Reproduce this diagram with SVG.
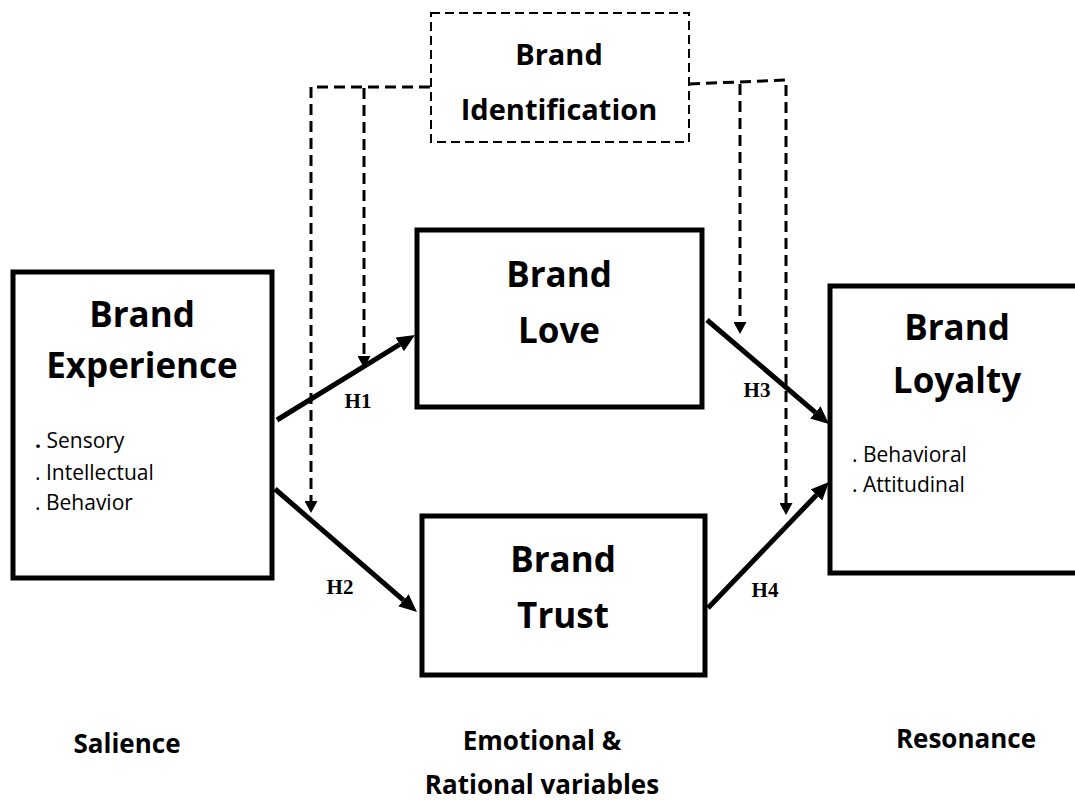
<svg xmlns="http://www.w3.org/2000/svg" width="1075" height="800" viewBox="0 0 1075 800">
<style>
.box{fill:#fff;stroke:#000;stroke-width:5}
.dbox{fill:#fff;stroke:#000;stroke-width:2;stroke-dasharray:9,5}
.title{font-family:"Open Sans","Liberation Sans",sans-serif;font-weight:bold;font-size:35px;fill:#000;text-anchor:middle}
.item{font-family:"Open Sans","Liberation Sans",sans-serif;font-size:21px;fill:#000}
.lab{font-family:"Open Sans","Liberation Sans",sans-serif;font-weight:bold;font-size:26px;fill:#000;text-anchor:middle}
.h{font-family:"Liberation Serif","Times New Roman",serif;font-weight:bold;font-size:21px;fill:#000;text-anchor:middle}
.solid{fill:none;stroke:#000;stroke-width:5;marker-end:url(#ah)}
.dashA{fill:none;stroke:#000;stroke-width:3;stroke-dasharray:11,6;marker-end:url(#dh)}
</style>
<defs>
<marker id="ah" markerUnits="userSpaceOnUse" markerWidth="18" markerHeight="16" refX="0" refY="8" orient="auto" viewBox="0 0 18 16">
<path d="M0,0 L18,8 L0,16 z" fill="#000"/>
</marker>
<marker id="dh" markerUnits="userSpaceOnUse" markerWidth="12" markerHeight="13" refX="0" refY="6.5" orient="auto" viewBox="0 0 12 13">
<path d="M0,0 L12,6.5 L0,13 z" fill="#000"/>
</marker>
</defs>
<rect width="1075" height="800" fill="#fff"/>

<g id="brand-identification">
<rect class="dbox" x="431" y="13" width="258" height="129"/>
<text class="title" style="font-size:29px" x="559" y="65">Brand</text>
<text class="title" style="font-size:29px" x="559" y="120">Identification</text>
</g>

<g id="brand-experience">
<rect class="box" x="13" y="272" width="259" height="306"/>
<text class="title" x="142" y="327">Brand</text>
<text class="title" x="142" y="378">Experience</text>
<text class="item" x="35" y="448"><tspan font-weight="bold">.</tspan> Sensory</text>
<text class="item" x="35" y="480">. Intellectual</text>
<text class="item" x="35" y="510">. Behavior</text>
</g>

<g id="brand-love">
<rect class="box" x="417" y="230" width="285" height="177"/>
<text class="title" x="559" y="287">Brand</text>
<text class="title" x="559" y="343">Love</text>
</g>

<g id="brand-trust">
<rect class="box" x="422" y="516" width="283" height="159"/>
<text class="title" x="563" y="572">Brand</text>
<text class="title" x="563" y="628">Trust</text>
</g>

<g id="brand-loyalty">
<rect class="box" x="830" y="286" width="260" height="287"/>
<text class="title" x="957" y="340">Brand</text>
<text class="title" x="957" y="393">Loyalty</text>
<text class="item" x="852" y="462">. Behavioral</text>
<text class="item" x="852" y="492">. Attitudinal</text>
</g>

<g id="connectors">
<path class="solid" d="M277,420 L399.7,344.4"/>
<path class="solid" d="M275,489 L403.4,600.2"/>
<path class="solid" d="M707,320 L815.3,412.3"/>
<path class="solid" d="M708,608 L816.5,495"/>
<path class="dashA" d="M430,87 H311 V501"/>
<path class="dashA" d="M364,88 V356"/>
<path class="dashA" d="M689,84 L786,80 V503"/>
<path class="dashA" d="M740,84 V322"/>
<text class="h" x="358" y="408">H1</text>
<text class="h" x="340" y="594">H2</text>
<text class="h" x="757" y="397">H3</text>
<text class="h" x="765" y="597">H4</text>
</g>

<g id="stage-labels">
<text class="lab" x="127" y="753">Salience</text>
<text class="lab" x="542" y="750">Emotional &amp;</text>
<text class="lab" x="542" y="794">Rational variables</text>
<text class="lab" x="966" y="748">Resonance</text>
</g>
</svg>
